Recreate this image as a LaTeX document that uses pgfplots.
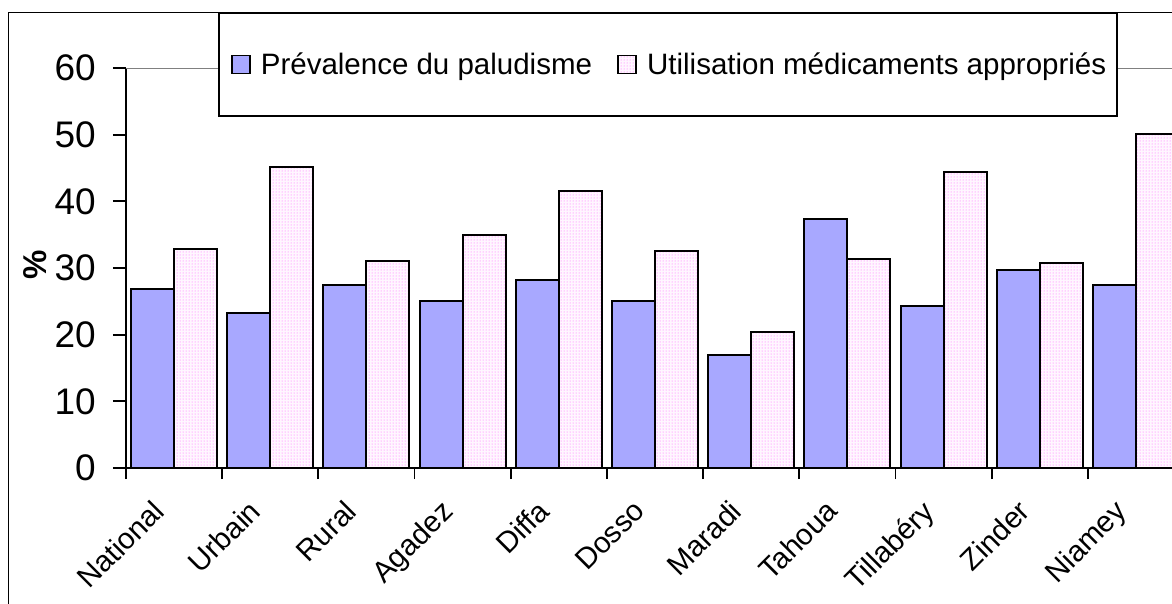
\documentclass[border=0pt]{standalone}
\usepackage{fontspec}
\setmainfont{Liberation Sans}
\usepackage{pgfplots}
\pgfplotsset{compat=1.18}
\usetikzlibrary{patterns}
\definecolor{barblue}{RGB}{168,168,255}
\definecolor{dotpink}{RGB}{255,90,255}
\definecolor{pinkbg}{RGB}{255,246,255}
\begin{document}
\begin{tikzpicture}[x=1pt,y=1pt]
\useasboundingbox (0,0) rectangle (1172,603);
\clip (0,0) rectangle (1172,603);
\fill[white] (0,0) rectangle (1172,603);
\draw[line width=1.6pt] (8.5,-20) rectangle (1200,590.3);
\begin{axis}[
  at={(126pt,135pt)}, anchor=south west,
  scale only axis, width=1058pt, height=400pt,
  xmin=-0.5, xmax=10.5, ymin=0, ymax=60,
  ybar=0pt, bar width=43pt,
  axis x line*=bottom, axis y line*=left,
  axis line style={line width=2pt, -},
  ytick={0,10,...,60},
  xtick={0,...,10},
  xticklabels={National,Urbain,Rural,Agadez,Diffa,Dosso,Maradi,Tahoua,Tillabéry,Zinder,Niamey},
  minor xtick={-0.5,0.5,...,10.5},
  tick align=outside,
  major tick length=13pt, minor tick length=11pt,
  tick style={line width=1.8pt, black},
  major x tick style={draw=none},
  /pgf/number format/assume math mode=true,
  yticklabel style={font=\fontsize{37}{40}\selectfont, inner sep=0pt, xshift=-17pt},
  xticklabel style={font=\fontsize{29.5}{34}\selectfont, xshift=-23pt, yshift=-17pt, rotate=45, anchor=north east, inner sep=0pt},
  ylabel={\%},
  every axis y label/.style={at={(axis description cs:-0.086,0.5075)}, rotate=90, anchor=center, font=\fontsize{33}{36}\selectfont\bfseries},
  legend columns=2,
  legend style={at={(axis description cs:0.087,1.14)}, anchor=north west, draw=black, line width=1.6pt, fill=white, font=\fontsize{29.5}{34}\selectfont, inner xsep=9pt, inner ysep=38pt, /tikz/every even column/.append style={column sep=20pt}},
  legend image code/.code={\path (-3pt,0pt); \draw[#1, line width=1.6pt] (0pt,-9pt) rectangle (18pt,9pt); \path (26pt,0pt);},
]
\draw[gray, line width=1.3pt] (axis cs:-0.5,60) -- (axis cs:10.5,60);
\addplot[draw=black, line width=2pt, fill=barblue] coordinates {
(0,26.8) (1,23.2) (2,27.5) (3,25.0) (4,28.2) (5,25.0) (6,17.0) (7,37.4) (8,24.35) (9,29.7) (10,27.5)};
\addplot[draw=black, line width=2pt, fill=pinkbg, postaction={pattern=dots, pattern color=dotpink}] coordinates {
(0,32.8) (1,45.1) (2,31.0) (3,35.0) (4,41.6) (5,32.5) (6,20.4) (7,31.4) (8,44.45) (9,30.7) (10,50.1)};
\legend{Prévalence du paludisme, Utilisation médicaments appropriés}
\end{axis}
\end{tikzpicture}
\end{document}
